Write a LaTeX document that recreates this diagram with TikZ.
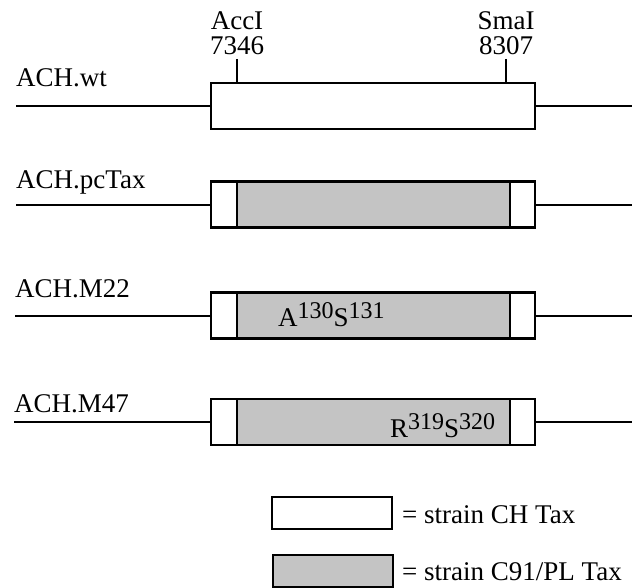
\documentclass[tikz,border=0pt]{standalone}
\usepackage{fontspec}
\setmainfont{Liberation Serif}
\usetikzlibrary{positioning}
\newcommand{\upnum}[1]{\raisebox{8pt}{\fontsize{24}{24}\selectfont#1}}

\begin{document}
\begin{tikzpicture}[x=1pt,y=-1pt,
  lab/.style={inner sep=0,font=\fontsize{27}{24}\selectfont},
  seg/.style={rectangle,draw,line width=2.6pt,fill=white,inner sep=0,minimum width=324pt,minimum height=46pt},
  tax/.style={seg,fill=black!23,minimum width=273pt},
  key/.style={rectangle,draw,line width=2pt,fill=white,inner sep=0,minimum width=120pt,minimum height=32pt},
  dna/.style={line width=2pt}]
\useasboundingbox(0,0)rectangle(639,588);
% strands
\coordinate(l1)at(16,106);\coordinate(r1)at(632,106);
\coordinate(l2)at(16,204.5);\coordinate(r2)at(632,204.5);
\coordinate(l3)at(15,315.5);\coordinate(r3)at(632,315.5);
\coordinate(l4)at(14,422);\coordinate(r4)at(632,422);
\node[seg](wt)at(373,106){};
\node[seg](pc)at(373,204.5){};
\node[tax](pcg)at(373.5,204.5){};
\node[seg](m22)at(373,315.5){};
\node[tax](m22g)at(373.5,315.5){};
\node[seg](m47)at(373,422){};
\node[tax](m47g)at(373.5,422){};
\draw[dna](l1)--(wt.west);\draw[dna](wt.east)--(r1);
\draw[dna](l2)--(pc.west);\draw[dna](pc.east)--(r2);
\draw[dna](l3)--(m22.west);\draw[dna](m22.east)--(r3);
\draw[dna](l4)--(m47.west);\draw[dna](m47.east)--(r4);
% sites
\coordinate(acc)at(237,59);\coordinate(sma)at(506,59);
\draw[dna](acc)--(acc|-wt.north);
\draw[dna](sma)--(sma|-wt.north);
\node[lab,above=4pt of acc](accn){7346};
\node[lab,above=6pt of accn](accl){AccI};
\node[lab,above=4pt of sma](sman){8307};
\node[lab,above=6pt of sman](smal){SmaI};
% names
\node[lab,anchor=base west](n1)at(16,87){ACH.wt};
\node[lab,anchor=base west](n2)at(16,188){ACH.pcTax};
\node[lab,anchor=base west](n3)at(15,297){ACH.M22};
\node[lab,anchor=base west](n4)at(14,412){ACH.M47};
\node[lab,anchor=base west](mu1)at(278,326){A\upnum{130}S\upnum{131}};
\node[lab,anchor=base west](mu2)at(390,437){R\upnum{319}S\upnum{320}};
% key
\node[key](k1)at(332,513){};
\node[key,fill=black!23](k2)at(332.5,571){};
\node[lab,anchor=base west](t1)at(402,523){= strain CH Tax};
\node[lab,anchor=base west](t2)at(402,580){= strain C91/PL Tax};
\end{tikzpicture}
\end{document}
